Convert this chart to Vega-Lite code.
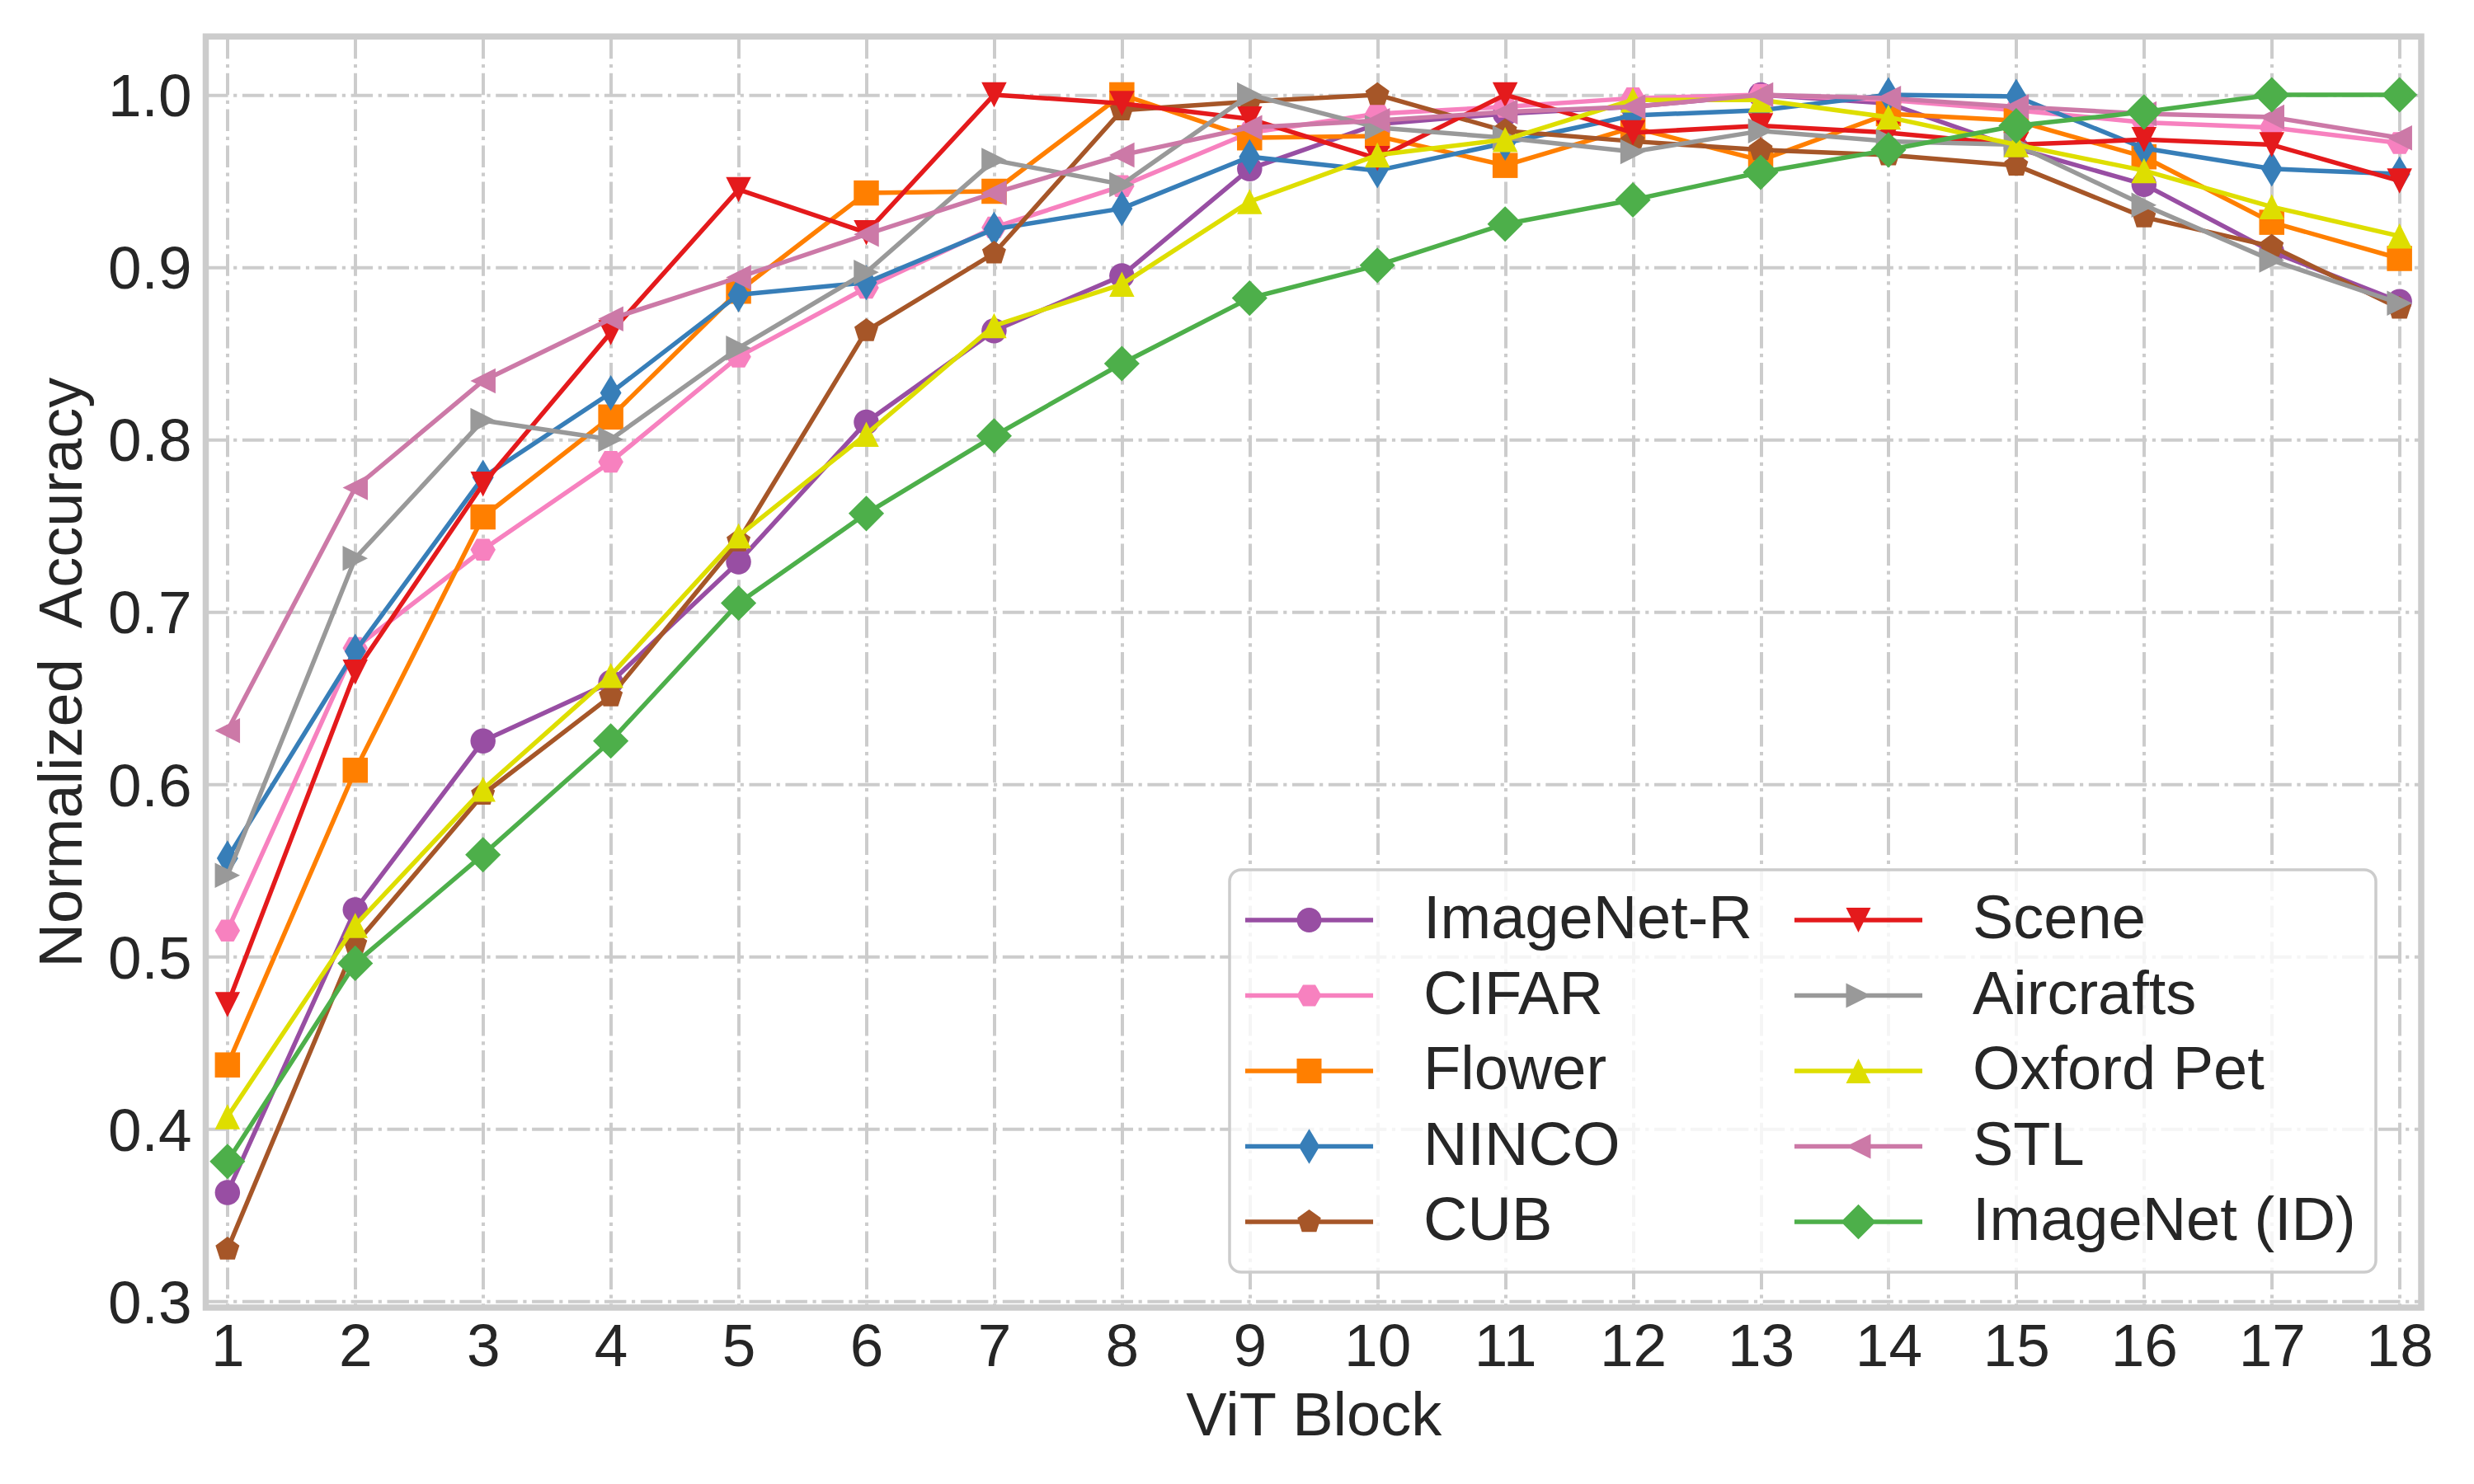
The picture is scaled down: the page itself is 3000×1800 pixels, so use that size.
{
  "$schema": "https://vega.github.io/schema/vega-lite/v6.json",
  "autosize": {"type": "none"},
  "padding": {"left": 249.5, "top": 44.3, "right": 64, "bottom": 214},
  "width": 2686.5,
  "height": 1541.7,
  "background": "white",
  "config": {
    "font": "Liberation Sans",
    "view": {"stroke": "#cccccc", "strokeWidth": 7.5},
    "axis": {
      "domain": false, "ticks": false, "tickSize": 0,
      "grid": true, "gridColor": "#cccccc", "gridWidth": 4, "gridDash": [26.5, 6.6, 4.2, 6.6], "gridOpacity": 1,
      "labelFont": "Liberation Sans", "labelFontSize": 73, "labelColor": "#262626",
      "labelFlush": false, "labelOverlap": false, "labelBound": false,
      "titleFont": "Liberation Sans", "titleFontSize": 74, "titleFontWeight": "normal", "titleColor": "#262626"
    },
    "legend": {
      "labelFont": "Liberation Sans", "labelFontSize": 74, "labelColor": "#262626", "labelLimit": 0,
      "symbolSize": 900, "symbolStrokeWidth": 0, "symbolOpacity": 1, "symbolOffset": 35.5, "labelOffset": 101.5,
      "rowPadding": 17.5, "columnPadding": 50, "padding": 24,
      "strokeColor": "#cccccc", "strokeWidth": 3.5, "fillColor": "rgba(255,255,255,0.8)", "cornerRadius": 14
    }
  },
  "data": {"values": [
    {"block":1,"dataset":"ImageNet-R","acc":0.363},{"block":2,"dataset":"ImageNet-R","acc":0.527},{"block":3,"dataset":"ImageNet-R","acc":0.625},{"block":4,"dataset":"ImageNet-R","acc":0.659},{"block":5,"dataset":"ImageNet-R","acc":0.729},{"block":6,"dataset":"ImageNet-R","acc":0.810},{"block":7,"dataset":"ImageNet-R","acc":0.863},{"block":8,"dataset":"ImageNet-R","acc":0.895},{"block":9,"dataset":"ImageNet-R","acc":0.957},{"block":10,"dataset":"ImageNet-R","acc":0.983},{"block":11,"dataset":"ImageNet-R","acc":0.989},{"block":12,"dataset":"ImageNet-R","acc":0.993},{"block":13,"dataset":"ImageNet-R","acc":1.000},{"block":14,"dataset":"ImageNet-R","acc":0.995},{"block":15,"dataset":"ImageNet-R","acc":0.969},{"block":16,"dataset":"ImageNet-R","acc":0.948},{"block":17,"dataset":"ImageNet-R","acc":0.909},{"block":18,"dataset":"ImageNet-R","acc":0.880},
    {"block":1,"dataset":"CIFAR","acc":0.515},{"block":2,"dataset":"CIFAR","acc":0.679},{"block":3,"dataset":"CIFAR","acc":0.736},{"block":4,"dataset":"CIFAR","acc":0.787},{"block":5,"dataset":"CIFAR","acc":0.848},{"block":6,"dataset":"CIFAR","acc":0.888},{"block":7,"dataset":"CIFAR","acc":0.923},{"block":8,"dataset":"CIFAR","acc":0.947},{"block":9,"dataset":"CIFAR","acc":0.978},{"block":10,"dataset":"CIFAR","acc":0.989},{"block":11,"dataset":"CIFAR","acc":0.993},{"block":12,"dataset":"CIFAR","acc":0.998},{"block":13,"dataset":"CIFAR","acc":1.000},{"block":14,"dataset":"CIFAR","acc":0.997},{"block":15,"dataset":"CIFAR","acc":0.991},{"block":16,"dataset":"CIFAR","acc":0.984},{"block":17,"dataset":"CIFAR","acc":0.981},{"block":18,"dataset":"CIFAR","acc":0.972},
    {"block":1,"dataset":"Flower","acc":0.437},{"block":2,"dataset":"Flower","acc":0.608},{"block":3,"dataset":"Flower","acc":0.755},{"block":4,"dataset":"Flower","acc":0.813},{"block":5,"dataset":"Flower","acc":0.886},{"block":6,"dataset":"Flower","acc":0.943},{"block":7,"dataset":"Flower","acc":0.944},{"block":8,"dataset":"Flower","acc":1.000},{"block":9,"dataset":"Flower","acc":0.975},{"block":10,"dataset":"Flower","acc":0.976},{"block":11,"dataset":"Flower","acc":0.959},{"block":12,"dataset":"Flower","acc":0.981},{"block":13,"dataset":"Flower","acc":0.962},{"block":14,"dataset":"Flower","acc":0.989},{"block":15,"dataset":"Flower","acc":0.985},{"block":16,"dataset":"Flower","acc":0.964},{"block":17,"dataset":"Flower","acc":0.926},{"block":18,"dataset":"Flower","acc":0.905},
    {"block":1,"dataset":"NINCO","acc":0.557},{"block":2,"dataset":"NINCO","acc":0.677},{"block":3,"dataset":"NINCO","acc":0.778},{"block":4,"dataset":"NINCO","acc":0.827},{"block":5,"dataset":"NINCO","acc":0.884},{"block":6,"dataset":"NINCO","acc":0.891},{"block":7,"dataset":"NINCO","acc":0.922},{"block":8,"dataset":"NINCO","acc":0.934},{"block":9,"dataset":"NINCO","acc":0.964},{"block":10,"dataset":"NINCO","acc":0.956},{"block":11,"dataset":"NINCO","acc":0.972},{"block":12,"dataset":"NINCO","acc":0.988},{"block":13,"dataset":"NINCO","acc":0.991},{"block":14,"dataset":"NINCO","acc":1.000},{"block":15,"dataset":"NINCO","acc":0.999},{"block":16,"dataset":"NINCO","acc":0.969},{"block":17,"dataset":"NINCO","acc":0.957},{"block":18,"dataset":"NINCO","acc":0.954},
    {"block":1,"dataset":"CUB","acc":0.330},{"block":2,"dataset":"CUB","acc":0.507},{"block":3,"dataset":"CUB","acc":0.594},{"block":4,"dataset":"CUB","acc":0.651},{"block":5,"dataset":"CUB","acc":0.741},{"block":6,"dataset":"CUB","acc":0.863},{"block":7,"dataset":"CUB","acc":0.908},{"block":8,"dataset":"CUB","acc":0.991},{"block":9,"dataset":"CUB","acc":0.996},{"block":10,"dataset":"CUB","acc":1.000},{"block":11,"dataset":"CUB","acc":0.979},{"block":12,"dataset":"CUB","acc":0.973},{"block":13,"dataset":"CUB","acc":0.968},{"block":14,"dataset":"CUB","acc":0.965},{"block":15,"dataset":"CUB","acc":0.959},{"block":16,"dataset":"CUB","acc":0.929},{"block":17,"dataset":"CUB","acc":0.912},{"block":18,"dataset":"CUB","acc":0.876},
    {"block":1,"dataset":"Scene","acc":0.472},{"block":2,"dataset":"Scene","acc":0.665},{"block":3,"dataset":"Scene","acc":0.774},{"block":4,"dataset":"Scene","acc":0.862},{"block":5,"dataset":"Scene","acc":0.945},{"block":6,"dataset":"Scene","acc":0.920},{"block":7,"dataset":"Scene","acc":1.000},{"block":8,"dataset":"Scene","acc":0.995},{"block":9,"dataset":"Scene","acc":0.986},{"block":10,"dataset":"Scene","acc":0.963},{"block":11,"dataset":"Scene","acc":1.000},{"block":12,"dataset":"Scene","acc":0.978},{"block":13,"dataset":"Scene","acc":0.982},{"block":14,"dataset":"Scene","acc":0.978},{"block":15,"dataset":"Scene","acc":0.971},{"block":16,"dataset":"Scene","acc":0.974},{"block":17,"dataset":"Scene","acc":0.971},{"block":18,"dataset":"Scene","acc":0.950},
    {"block":1,"dataset":"Aircrafts","acc":0.547},{"block":2,"dataset":"Aircrafts","acc":0.731},{"block":3,"dataset":"Aircrafts","acc":0.811},{"block":4,"dataset":"Aircrafts","acc":0.800},{"block":5,"dataset":"Aircrafts","acc":0.853},{"block":6,"dataset":"Aircrafts","acc":0.897},{"block":7,"dataset":"Aircrafts","acc":0.962},{"block":8,"dataset":"Aircrafts","acc":0.948},{"block":9,"dataset":"Aircrafts","acc":1.000},{"block":10,"dataset":"Aircrafts","acc":0.981},{"block":11,"dataset":"Aircrafts","acc":0.975},{"block":12,"dataset":"Aircrafts","acc":0.967},{"block":13,"dataset":"Aircrafts","acc":0.979},{"block":14,"dataset":"Aircrafts","acc":0.973},{"block":15,"dataset":"Aircrafts","acc":0.971},{"block":16,"dataset":"Aircrafts","acc":0.936},{"block":17,"dataset":"Aircrafts","acc":0.904},{"block":18,"dataset":"Aircrafts","acc":0.879},
    {"block":1,"dataset":"Oxford Pet","acc":0.407},{"block":2,"dataset":"Oxford Pet","acc":0.518},{"block":3,"dataset":"Oxford Pet","acc":0.597},{"block":4,"dataset":"Oxford Pet","acc":0.663},{"block":5,"dataset":"Oxford Pet","acc":0.744},{"block":6,"dataset":"Oxford Pet","acc":0.803},{"block":7,"dataset":"Oxford Pet","acc":0.866},{"block":8,"dataset":"Oxford Pet","acc":0.890},{"block":9,"dataset":"Oxford Pet","acc":0.938},{"block":10,"dataset":"Oxford Pet","acc":0.965},{"block":11,"dataset":"Oxford Pet","acc":0.974},{"block":12,"dataset":"Oxford Pet","acc":0.997},{"block":13,"dataset":"Oxford Pet","acc":0.997},{"block":14,"dataset":"Oxford Pet","acc":0.987},{"block":15,"dataset":"Oxford Pet","acc":0.971},{"block":16,"dataset":"Oxford Pet","acc":0.956},{"block":17,"dataset":"Oxford Pet","acc":0.935},{"block":18,"dataset":"Oxford Pet","acc":0.918},
    {"block":1,"dataset":"STL","acc":0.631},{"block":2,"dataset":"STL","acc":0.772},{"block":3,"dataset":"STL","acc":0.834},{"block":4,"dataset":"STL","acc":0.870},{"block":5,"dataset":"STL","acc":0.894},{"block":6,"dataset":"STL","acc":0.919},{"block":7,"dataset":"STL","acc":0.943},{"block":8,"dataset":"STL","acc":0.965},{"block":9,"dataset":"STL","acc":0.981},{"block":10,"dataset":"STL","acc":0.985},{"block":11,"dataset":"STL","acc":0.990},{"block":12,"dataset":"STL","acc":0.993},{"block":13,"dataset":"STL","acc":1.000},{"block":14,"dataset":"STL","acc":0.998},{"block":15,"dataset":"STL","acc":0.993},{"block":16,"dataset":"STL","acc":0.989},{"block":17,"dataset":"STL","acc":0.987},{"block":18,"dataset":"STL","acc":0.975},
    {"block":1,"dataset":"ImageNet (ID)","acc":0.381},{"block":2,"dataset":"ImageNet (ID)","acc":0.496},{"block":3,"dataset":"ImageNet (ID)","acc":0.559},{"block":4,"dataset":"ImageNet (ID)","acc":0.625},{"block":5,"dataset":"ImageNet (ID)","acc":0.705},{"block":6,"dataset":"ImageNet (ID)","acc":0.757},{"block":7,"dataset":"ImageNet (ID)","acc":0.802},{"block":8,"dataset":"ImageNet (ID)","acc":0.844},{"block":9,"dataset":"ImageNet (ID)","acc":0.882},{"block":10,"dataset":"ImageNet (ID)","acc":0.901},{"block":11,"dataset":"ImageNet (ID)","acc":0.925},{"block":12,"dataset":"ImageNet (ID)","acc":0.939},{"block":13,"dataset":"ImageNet (ID)","acc":0.955},{"block":14,"dataset":"ImageNet (ID)","acc":0.968},{"block":15,"dataset":"ImageNet (ID)","acc":0.982},{"block":16,"dataset":"ImageNet (ID)","acc":0.990},{"block":17,"dataset":"ImageNet (ID)","acc":1.000},{"block":18,"dataset":"ImageNet (ID)","acc":1.000}
  ]},
  "encoding": {
    "x": {"field": "block", "type": "quantitative",
      "scale": {"domain": [0.83, 18.17], "nice": false, "zero": false},
      "axis": {"values": [1,2,3,4,5,6,7,8,9,10,11,12,13,14,15,16,17,18], "format": "d", "title": "ViT Block",
        "labelPadding": 12, "titleBaseline": "alphabetic", "titleY": 154}},
    "y": {"field": "acc", "type": "quantitative",
      "scale": {"domain": [0.2962, 1.0338], "nice": false, "zero": false},
      "axis": {"values": [0.3,0.4,0.5,0.6,0.7,0.8,0.9,1.0], "format": ".1f", "title": "Normalized\u00a0 Accuracy",
        "labelPadding": 17.5, "labelOffset": 4, "titleBaseline": "alphabetic", "titleX": -151}}
  },
  "layer": [
    {"transform": [{"filter": "datum.dataset === 'ImageNet-R'"}], "mark": {"type": "line", "color": "#984ea3", "strokeWidth": 5.5, "strokeJoin": "round"}},
    {"transform": [{"filter": "datum.dataset === 'ImageNet-R'"}], "mark": {"type": "point", "color": "#984ea3", "filled": true, "opacity": 1, "strokeWidth": 0, "size": 930, "shape": "M-1,0A1,1,0,1,1,1,0A1,1,0,1,1,-1,0Z"}},
    {"transform": [{"filter": "datum.dataset === 'CIFAR'"}], "mark": {"type": "line", "color": "#f781bf", "strokeWidth": 5.5, "strokeJoin": "round"}},
    {"transform": [{"filter": "datum.dataset === 'CIFAR'"}], "mark": {"type": "point", "color": "#f781bf", "filled": true, "opacity": 1, "strokeWidth": 0, "size": 930, "shape": "M-0.5,-0.866L0.5,-0.866L1,0L0.5,0.866L-0.5,0.866L-1,0Z"}},
    {"transform": [{"filter": "datum.dataset === 'Flower'"}], "mark": {"type": "line", "color": "#ff7f00", "strokeWidth": 5.5, "strokeJoin": "round"}},
    {"transform": [{"filter": "datum.dataset === 'Flower'"}], "mark": {"type": "point", "color": "#ff7f00", "filled": true, "opacity": 1, "strokeWidth": 0, "size": 930, "shape": "M-1,-1L1,-1L1,1L-1,1Z"}},
    {"transform": [{"filter": "datum.dataset === 'NINCO'"}], "mark": {"type": "line", "color": "#377eb8", "strokeWidth": 5.5, "strokeJoin": "round"}},
    {"transform": [{"filter": "datum.dataset === 'NINCO'"}], "mark": {"type": "point", "color": "#377eb8", "filled": true, "opacity": 1, "strokeWidth": 0, "size": 930, "shape": "M0,-1.414L0.849,0L0,1.414L-0.849,0Z"}},
    {"transform": [{"filter": "datum.dataset === 'CUB'"}], "mark": {"type": "line", "color": "#a65628", "strokeWidth": 5.5, "strokeJoin": "round"}},
    {"transform": [{"filter": "datum.dataset === 'CUB'"}], "mark": {"type": "point", "color": "#a65628", "filled": true, "opacity": 1, "strokeWidth": 0, "size": 930, "shape": "M0,-1L0.951,-0.309L0.588,0.809L-0.588,0.809L-0.951,-0.309Z"}},
    {"transform": [{"filter": "datum.dataset === 'Scene'"}], "mark": {"type": "line", "color": "#e41a1c", "strokeWidth": 5.5, "strokeJoin": "round"}},
    {"transform": [{"filter": "datum.dataset === 'Scene'"}], "mark": {"type": "point", "color": "#e41a1c", "filled": true, "opacity": 1, "strokeWidth": 0, "size": 930, "shape": "M0,1L-1,-1L1,-1Z"}},
    {"transform": [{"filter": "datum.dataset === 'Aircrafts'"}], "mark": {"type": "line", "color": "#999999", "strokeWidth": 5.5, "strokeJoin": "round"}},
    {"transform": [{"filter": "datum.dataset === 'Aircrafts'"}], "mark": {"type": "point", "color": "#999999", "filled": true, "opacity": 1, "strokeWidth": 0, "size": 930, "shape": "M1,0L-1,1L-1,-1Z"}},
    {"transform": [{"filter": "datum.dataset === 'Oxford Pet'"}], "mark": {"type": "line", "color": "#dede00", "strokeWidth": 5.5, "strokeJoin": "round"}},
    {"transform": [{"filter": "datum.dataset === 'Oxford Pet'"}], "mark": {"type": "point", "color": "#dede00", "filled": true, "opacity": 1, "strokeWidth": 0, "size": 930, "shape": "M0,-1L1,1L-1,1Z"}},
    {"transform": [{"filter": "datum.dataset === 'STL'"}], "mark": {"type": "line", "color": "#cc79a7", "strokeWidth": 5.5, "strokeJoin": "round"}},
    {"transform": [{"filter": "datum.dataset === 'STL'"}], "mark": {"type": "point", "color": "#cc79a7", "filled": true, "opacity": 1, "strokeWidth": 0, "size": 930, "shape": "M-1,0L1,-1L1,1Z"}},
    {"transform": [{"filter": "datum.dataset === 'ImageNet (ID)'"}], "mark": {"type": "line", "color": "#4daf4a", "strokeWidth": 5.5, "strokeJoin": "round"}},
    {"transform": [{"filter": "datum.dataset === 'ImageNet (ID)'"}], "mark": {"type": "point", "color": "#4daf4a", "filled": true, "opacity": 1, "strokeWidth": 0, "size": 930, "shape": "M0,-1.414L1.414,0L0,1.414L-1.414,0Z"}},
    {
      "transform": [{"filter": "false"}],
      "mark": {"type": "point", "filled": true, "opacity": 1, "strokeWidth": 0, "size": 900},
      "encoding": {
        "color": {"field": "dataset", "type": "nominal",
          "scale": {"domain": ["ImageNet-R","CIFAR","Flower","NINCO","CUB","Scene","Aircrafts","Oxford Pet","STL","ImageNet (ID)"],
                    "range": ["#984ea3","#f781bf","#ff7f00","#377eb8","#a65628","#e41a1c","#999999","#dede00","#cc79a7","#4daf4a"]},
          "legend": {"orient": "none", "legendX": 1241.5, "legendY": 1010.7, "columns": 2, "title": null}},
        "shape": {"field": "dataset", "type": "nominal",
          "scale": {"domain": ["ImageNet-R","CIFAR","Flower","NINCO","CUB","Scene","Aircrafts","Oxford Pet","STL","ImageNet (ID)"],
                    "range": [
                      "M-5.17,-0.18L5.17,-0.18L5.17,0.18L-5.17,0.18ZM-1,0A1,1,0,1,1,1,0A1,1,0,1,1,-1,0Z",
                      "M-5.17,-0.18L5.17,-0.18L5.17,0.18L-5.17,0.18ZM-0.5,-0.866L0.5,-0.866L1,0L0.5,0.866L-0.5,0.866L-1,0Z",
                      "M-5.17,-0.18L5.17,-0.18L5.17,0.18L-5.17,0.18ZM-1,-1L1,-1L1,1L-1,1Z",
                      "M-5.17,-0.18L5.17,-0.18L5.17,0.18L-5.17,0.18ZM0,-1.414L0.849,0L0,1.414L-0.849,0Z",
                      "M-5.17,-0.18L5.17,-0.18L5.17,0.18L-5.17,0.18ZM0,-1L0.951,-0.309L0.588,0.809L-0.588,0.809L-0.951,-0.309Z",
                      "M-5.17,-0.18L5.17,-0.18L5.17,0.18L-5.17,0.18ZM0,1L-1,-1L1,-1Z",
                      "M-5.17,-0.18L5.17,-0.18L5.17,0.18L-5.17,0.18ZM1,0L-1,1L-1,-1Z",
                      "M-5.17,-0.18L5.17,-0.18L5.17,0.18L-5.17,0.18ZM0,-1L1,1L-1,1Z",
                      "M-5.17,-0.18L5.17,-0.18L5.17,0.18L-5.17,0.18ZM-1,0L1,-1L1,1Z",
                      "M-5.17,-0.18L5.17,-0.18L5.17,0.18L-5.17,0.18ZM0,-1.414L1.414,0L0,1.414L-1.414,0Z"
                    ]},
          "legend": {"orient": "none", "legendX": 1241.5, "legendY": 1010.7, "columns": 2, "title": null}}
      }
    }
  ]
}
